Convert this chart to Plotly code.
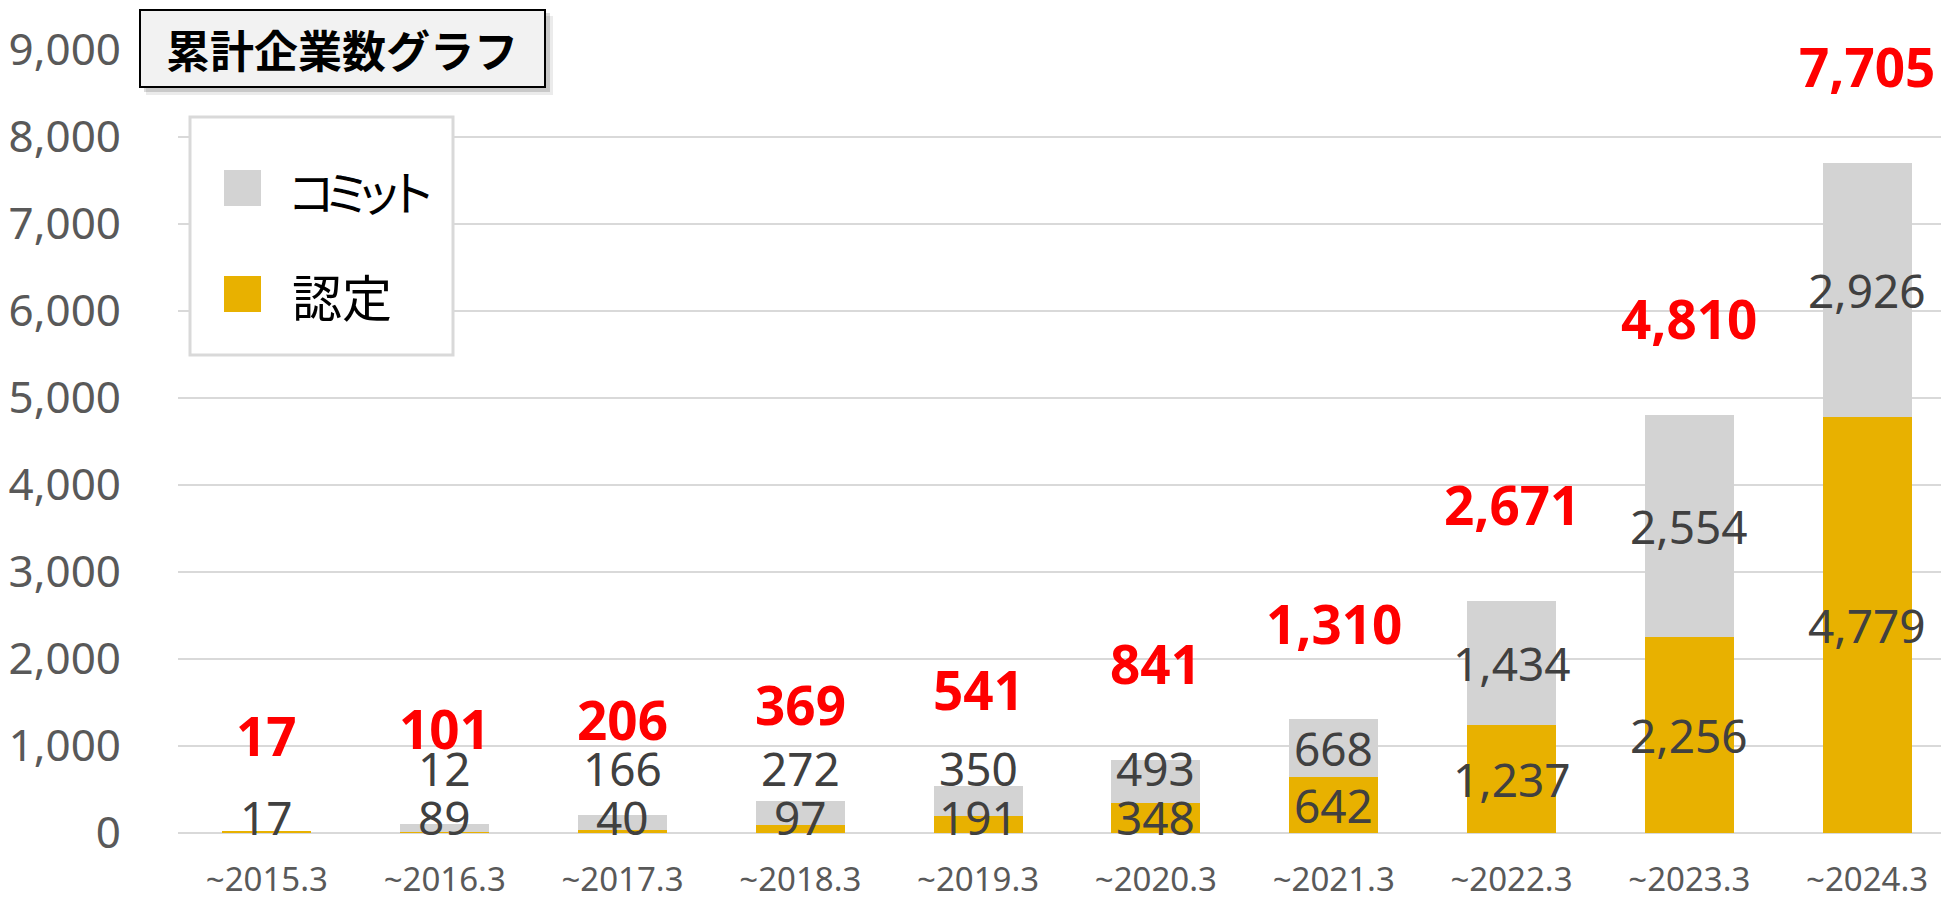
import plotly.graph_objects as go

# ---- data ----
categories = ["~2015.3", "~2016.3", "~2017.3", "~2018.3", "~2019.3",
              "~2020.3", "~2021.3", "~2022.3", "~2023.3", "~2024.3"]
certified = [17, 12, 40, 97, 191, 348, 642, 1237, 2256, 4779]      # 認定 (bar heights)
commit = [0, 89, 166, 272, 350, 493, 668, 1434, 2554, 2926]        # コミット (bar heights)
totals = [17, 101, 206, 369, 541, 841, 1310, 2671, 4810, 7705]
# label texts exactly as printed in the reference
lower_labels = ["17", "89", "40", "97", "191", "348", "642", "1,237", "2,256", "4,779"]
upper_labels = ["", "12", "166", "272", "350", "493", "668", "1,434", "2,554", "2,926"]
y_ticks = [0, 1000, 2000, 3000, 4000, 5000, 6000, 7000, 8000, 9000]
title_text = "累計企業数グラフ"
legend_commit = "コミット"
legend_cert = "認定"

# ---- styling ----
W, H = 1941, 897
ML, MR, MT, MB = 178, 0, 50, 64
PW, PH = W - ML - MR, H - MT - MB
BAND = 177.8  # px per category (plot area continues past the right edge)
GRAY = "#D3D3D3"
GOLD = "#E8B100"
NUM_FONT = "Noto Sans, Open Sans, sans-serif"
CJK_FONT = "Noto Sans CJK JP, sans-serif"


def px(x):
    return (x - ML) / PW


def py(y):
    return (H - MB - y) / PH


fig = go.Figure()
fig.add_trace(go.Bar(x=categories, y=certified, name=legend_cert,
                     marker=dict(color=GOLD, line=dict(width=0)), showlegend=False))
fig.add_trace(go.Bar(x=categories, y=commit, name=legend_commit,
                     marker=dict(color=GRAY, line=dict(width=0)), showlegend=False))

annotations = []
for cat, c, m, lo, up, t in zip(categories, certified, commit, lower_labels, upper_labels, totals):
    annotations.append(dict(x=cat, y=max(c / 2, 180), text=lo, showarrow=False,
                            font=dict(family=NUM_FONT, size=46, color="#404040")))
    if up:
        annotations.append(dict(x=cat, y=max(c + m / 2, 750), text=up, showarrow=False,
                                font=dict(family=NUM_FONT, size=46, color="#404040")))
    annotations.append(dict(x=cat, y=t, text=f"{t:,}", showarrow=False, yshift=96,
                            font=dict(family=NUM_FONT, size=53, color="#FF0000", weight="bold")))

# title box with shadow, legend box with swatches
shapes = [
    dict(type="rect", xref="paper", yref="paper", layer="above",
         x0=px(146), x1=px(553), y0=py(95), y1=py(16),
         fillcolor="rgba(0,0,0,0.08)", line=dict(width=0)),
    dict(type="rect", xref="paper", yref="paper", layer="above",
         x0=px(144), x1=px(550), y0=py(92), y1=py(13),
         fillcolor="rgba(0,0,0,0.14)", line=dict(width=0)),
    dict(type="rect", xref="paper", yref="paper", layer="above",
         x0=px(140), x1=px(545), y0=py(87), y1=py(10),
         fillcolor="#F2F2F2", line=dict(color="#000000", width=2)),
    dict(type="rect", xref="paper", yref="paper", layer="above",
         x0=px(190), x1=px(453), y0=py(355), y1=py(117),
         fillcolor="#FFFFFF", line=dict(color="#D9D9D9", width=3)),
    dict(type="rect", xref="paper", yref="paper", layer="above",
         x0=px(224), x1=px(261), y0=py(206), y1=py(170),
         fillcolor=GRAY, line=dict(width=0)),
    dict(type="rect", xref="paper", yref="paper", layer="above",
         x0=px(224), x1=px(261), y0=py(312), y1=py(276),
         fillcolor=GOLD, line=dict(width=0)),
]

annotations.append(dict(xref="paper", yref="paper", x=px(342), y=py(49),
                        text=f"<b>{title_text}</b>", showarrow=False,
                        xanchor="center", yanchor="middle",
                        font=dict(family=CJK_FONT, size=44, color="#000000")))
# legend text: katakana set proportionally (narrow) like the reference font
kana_centers = [311, 347, 379, 412]
for ch, cx in zip(legend_commit, kana_centers):
    annotations.append(dict(xref="paper", yref="paper", x=px(cx), y=py(190), text=ch,
                            showarrow=False, xanchor="center", yanchor="middle",
                            font=dict(family=CJK_FONT, size=48, color="#000000")))
annotations.append(dict(xref="paper", yref="paper", x=px(290), y=py(295), text=legend_cert,
                        showarrow=False, xanchor="left", yanchor="middle",
                        font=dict(family=CJK_FONT, size=50, color="#000000")))

fig.update_layout(
    width=W, height=H,
    margin=dict(l=ML, r=MR, t=MT, b=MB, pad=0, autoexpand=False),
    paper_bgcolor="#FFFFFF", plot_bgcolor="#FFFFFF",
    barmode="stack", bargap=0.5,
    hovermode=False,
    shapes=shapes, annotations=annotations,
    xaxis=dict(type="category", range=[-0.5, -0.5 + PW / BAND], automargin=False,
               showgrid=False, showline=False, ticks="",
               tickfont=dict(family=NUM_FONT, size=33, color="#595959"),
               ticklabelstandoff=24),
    yaxis=dict(range=[0, 9000], tickvals=y_ticks, tickformat=",", automargin=False,
               showgrid=True, gridcolor="#D9D9D9", gridwidth=2,
               zeroline=True, zerolinecolor="#D9D9D9", zerolinewidth=2,
               showline=False, ticks="",
               tickfont=dict(family=NUM_FONT, size=44, color="#595959"),
               ticklabelstandoff=56),
)

fig.write_html("out.html", config={"displayModeBar": False},
               post_script="document.body.style.margin='0px';")
